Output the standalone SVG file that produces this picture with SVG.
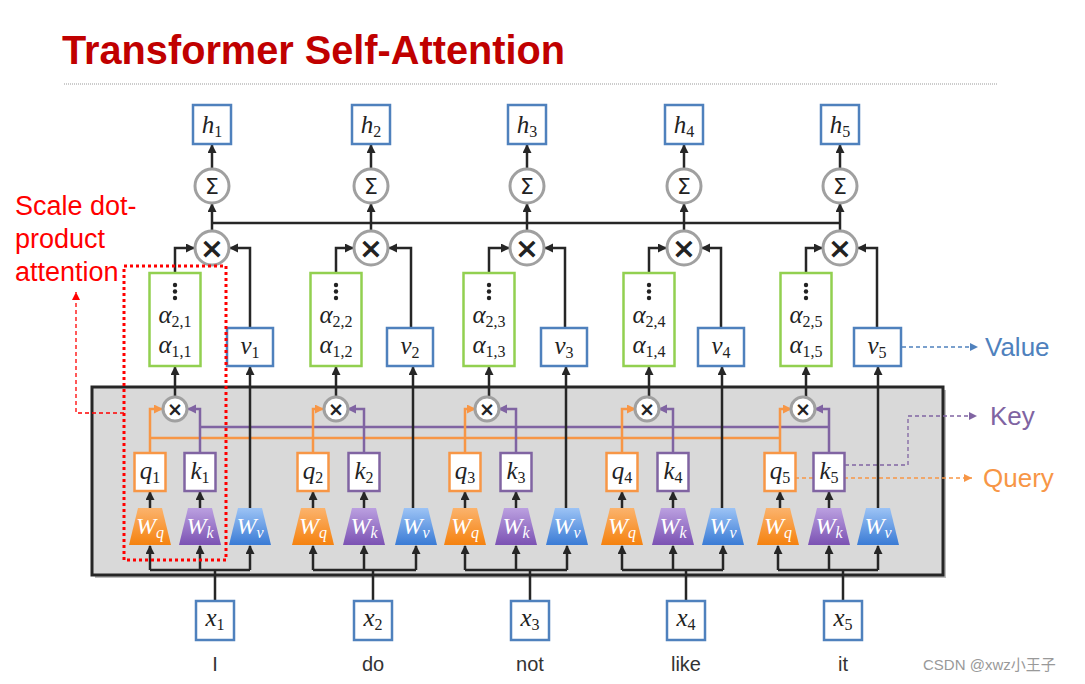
<svg xmlns="http://www.w3.org/2000/svg" width="1085" height="684" viewBox="0 0 1085 684">
<style>
.title{font-family:"Liberation Sans",Arial,sans-serif;font-weight:bold;font-size:40px;fill:#c00000}
.red{font-family:"Liberation Sans",Arial,sans-serif;font-size:27px;fill:#ff0000}
.lbl{font-family:"Liberation Sans",Arial,sans-serif;font-size:26px}
.word{font-family:"Liberation Sans",Arial,sans-serif;font-size:20px;fill:#333}
.math{font-family:"Liberation Serif","DejaVu Serif",serif;font-style:italic;font-size:25px;fill:#222;text-anchor:middle}
.wm{font-family:"Liberation Serif","DejaVu Serif",serif;font-style:italic;font-size:24px;fill:#fff;text-anchor:middle}
.sub{font-style:normal;font-size:16px}
.wsub{font-size:16px}
.bbox{fill:#fff;stroke:#4f81bd;stroke-width:2.5}
.gbox{fill:#fff;stroke:#92d050;stroke-width:2.5}
.qbox{fill:#fff;stroke:#f79646;stroke-width:2.5}
.kbox{fill:#fff;stroke:#8064a2;stroke-width:2.5}
.op{fill:#fff;stroke:#a0a0a0;stroke-width:3}
.sym{font-family:"DejaVu Sans",sans-serif;fill:#222;text-anchor:middle}
.ln{fill:none;stroke:#262626;stroke-width:2.5}
.lnA{fill:none;stroke:#262626;stroke-width:2.5;marker-end:url(#ab)}
.oA{fill:none;stroke:#f79646;stroke-width:2.5;marker-end:url(#ao)}
.pA{fill:none;stroke:#8064a2;stroke-width:2.5;marker-end:url(#ap)}
</style>
<defs>
<marker id="ab" markerUnits="userSpaceOnUse" markerWidth="10" markerHeight="10" refX="8" refY="4.5" orient="auto"><path d="M0,0 L9,4.5 L0,9 z" fill="#262626"/></marker>
<marker id="ao" markerUnits="userSpaceOnUse" markerWidth="10" markerHeight="10" refX="8" refY="4.5" orient="auto"><path d="M0,0 L9,4.5 L0,9 z" fill="#f79646"/></marker>
<marker id="ap" markerUnits="userSpaceOnUse" markerWidth="10" markerHeight="10" refX="8" refY="4.5" orient="auto"><path d="M0,0 L9,4.5 L0,9 z" fill="#8064a2"/></marker>
<marker id="dB" markerUnits="userSpaceOnUse" markerWidth="10" markerHeight="10" refX="8" refY="4" orient="auto"><path d="M0,0 L8,4 L0,8 z" fill="#4f81bd"/></marker>
<marker id="dP" markerUnits="userSpaceOnUse" markerWidth="10" markerHeight="10" refX="8" refY="4" orient="auto"><path d="M0,0 L8,4 L0,8 z" fill="#8064a2"/></marker>
<marker id="dO" markerUnits="userSpaceOnUse" markerWidth="10" markerHeight="10" refX="8" refY="4" orient="auto"><path d="M0,0 L8,4 L0,8 z" fill="#f79646"/></marker>
<marker id="dR" markerUnits="userSpaceOnUse" markerWidth="10" markerHeight="10" refX="8" refY="4" orient="auto"><path d="M0,0 L8,4 L0,8 z" fill="#ff0000"/></marker>
<linearGradient id="gq" x1="0" y1="0" x2="0" y2="1"><stop offset="0" stop-color="#fbb36d"/><stop offset="1" stop-color="#f5820f"/></linearGradient>
<linearGradient id="gk" x1="0" y1="0" x2="0" y2="1"><stop offset="0" stop-color="#bba0e0"/><stop offset="1" stop-color="#7b52b3"/></linearGradient>
<linearGradient id="gv" x1="0" y1="0" x2="0" y2="1"><stop offset="0" stop-color="#9cc3f5"/><stop offset="1" stop-color="#3a7bd5"/></linearGradient>
</defs>

<rect width="1085" height="684" fill="#fff"/>

<g id="title">
<text class="title" x="62" y="64" textLength="503" lengthAdjust="spacingAndGlyphs">Transformer Self-Attention</text>
<line x1="64" y1="84" x2="997" y2="84" stroke="#999" stroke-width="1" stroke-dasharray="1 1"/>
</g>

<g id="panel">
<rect x="95" y="390" width="851" height="188" fill="#bdbdbd"/>
<rect x="92" y="387" width="851" height="188" fill="#d9d9d9" stroke="#262626" stroke-width="3"/>
</g>

<g id="annotations">
<text class="red" x="15" y="215">Scale dot-</text>
<text class="red" x="15" y="248">product</text>
<text class="red" x="15" y="281">attention</text>
<path d="M124,413 H76 V292" fill="none" stroke="#ff0000" stroke-width="1.3" stroke-dasharray="4 3" marker-end="url(#dR)"/>
<path d="M902,347 H978" fill="none" stroke="#4f81bd" stroke-width="1.3" stroke-dasharray="4 3" marker-end="url(#dB)"/>
<text class="lbl" x="985" y="356" fill="#4f81bd">Value</text>
<path d="M845,465 H908 V416 H977" fill="none" stroke="#8064a2" stroke-width="1.3" stroke-dasharray="4 3" marker-end="url(#dP)"/>
<text class="lbl" x="990" y="425" fill="#8064a2">Key</text>
<path d="M795,478 H972" fill="none" stroke="#f79646" stroke-width="1.3" stroke-dasharray="4 3" marker-end="url(#dO)"/>
<text class="lbl" x="983" y="487" fill="#f79646">Query</text>
</g>

<g id="connectors">
<path class="ln" d="M212,223 H840" stroke-width="4"/>
<path d="M150,438 H780" fill="none" stroke="#f79646" stroke-width="2.5"/>
<path d="M200,427 H829" fill="none" stroke="#8064a2" stroke-width="2.5"/>
<!-- column 1 -->
<path class="lnA" d="M212,168 V145"/><path class="lnA" d="M212,230 V204"/>
<path class="lnA" d="M175,273 V248 H194"/><path class="lnA" d="M250,328 V248 H230"/>
<path class="lnA" d="M175,397 V367"/><path class="lnA" d="M250,508 V367"/>
<path class="lnA" d="M150,508 V492"/><path class="lnA" d="M200,508 V492"/>
<path class="oA" d="M150,453 V409 H162"/><path class="pA" d="M200,453 V409 H188"/>
<path class="ln" d="M215,601 V570 M150,570 H250"/>
<path class="lnA" d="M150,570 V546"/><path class="lnA" d="M200,570 V546"/><path class="lnA" d="M250,570 V546"/>
<!-- column 2 -->
<path class="lnA" d="M371,168 V145"/><path class="lnA" d="M371,230 V204"/>
<path class="lnA" d="M336,273 V248 H353"/><path class="lnA" d="M411,328 V248 H389"/>
<path class="lnA" d="M336,397 V367"/><path class="lnA" d="M413,508 V367"/>
<path class="lnA" d="M313,508 V492"/><path class="lnA" d="M364,508 V492"/>
<path class="oA" d="M313,453 V409 H323"/><path class="pA" d="M364,453 V409 H348"/>
<path class="ln" d="M373,601 V570 M313,570 H416"/>
<path class="lnA" d="M313,570 V546"/><path class="lnA" d="M364,570 V546"/><path class="lnA" d="M416,570 V546"/>
<!-- column 3 -->
<path class="lnA" d="M527,168 V145"/><path class="lnA" d="M527,230 V204"/>
<path class="lnA" d="M489,273 V248 H509"/><path class="lnA" d="M565,328 V248 H545"/>
<path class="lnA" d="M489,397 V367"/><path class="lnA" d="M566,508 V367"/>
<path class="lnA" d="M465,508 V492"/><path class="lnA" d="M516,508 V492"/>
<path class="oA" d="M465,453 V409 H475"/><path class="pA" d="M516,453 V409 H499"/>
<path class="ln" d="M530,601 V570 M465,570 H567"/>
<path class="lnA" d="M465,570 V546"/><path class="lnA" d="M516,570 V546"/><path class="lnA" d="M567,570 V546"/>
<!-- column 4 -->
<path class="lnA" d="M684,168 V145"/><path class="lnA" d="M684,230 V204"/>
<path class="lnA" d="M649,273 V248 H666"/><path class="lnA" d="M721,328 V248 H702"/>
<path class="lnA" d="M649,397 V367"/><path class="lnA" d="M722,508 V367"/>
<path class="lnA" d="M622,508 V492"/><path class="lnA" d="M673,508 V492"/>
<path class="oA" d="M622,453 V409 H635"/><path class="pA" d="M673,453 V409 H659"/>
<path class="ln" d="M686,601 V570 M622,570 H723"/>
<path class="lnA" d="M622,570 V546"/><path class="lnA" d="M673,570 V546"/><path class="lnA" d="M723,570 V546"/>
<!-- column 5 -->
<path class="lnA" d="M840,168 V145"/><path class="lnA" d="M840,230 V204"/>
<path class="lnA" d="M806,273 V248 H822"/><path class="lnA" d="M877,328 V248 H858"/>
<path class="lnA" d="M806,397 V367"/><path class="lnA" d="M878,508 V367"/>
<path class="lnA" d="M780,508 V492"/><path class="lnA" d="M829,508 V492"/>
<path class="oA" d="M780,453 V409 H791"/><path class="pA" d="M829,453 V409 H815"/>
<path class="ln" d="M843,601 V570 M778,570 H878"/>
<path class="lnA" d="M778,570 V546"/><path class="lnA" d="M829,570 V546"/><path class="lnA" d="M878,570 V546"/>
</g>

<g id="col1">
<rect class="bbox" x="193" y="105" width="38" height="39"/><text class="math" x="212" y="133">h<tspan class="sub" dy="4">1</tspan></text>
<circle class="op" cx="212" cy="186" r="17"/><text class="sym" x="212" y="194" font-size="22">Σ</text>
<circle class="op" cx="212" cy="248" r="17"/><text class="sym" x="212" y="258" font-size="29" font-weight="bold">×</text>
<rect class="gbox" x="149.5" y="273" width="51" height="93"/>
<circle cx="175" cy="285" r="2.2" fill="#222"/><circle cx="175" cy="291.5" r="2.2" fill="#222"/><circle cx="175" cy="298" r="2.2" fill="#222"/>
<text class="math" x="175" y="323">α<tspan class="sub" dy="4">2,1</tspan></text>
<text class="math" x="175" y="353">α<tspan class="sub" dy="4">1,1</tspan></text>
<rect class="bbox" x="227" y="328" width="46" height="38"/><text class="math" x="250" y="354">v<tspan class="sub" dy="4">1</tspan></text>
<circle class="op" cx="175" cy="409" r="12"/><text class="sym" x="175" y="416" font-size="19" font-weight="bold">×</text>
<rect class="qbox" x="134.5" y="453" width="31" height="38"/><text class="math" x="150" y="479">q<tspan class="sub" dy="4">1</tspan></text>
<rect class="kbox" x="184.5" y="453" width="31" height="38"/><text class="math" x="200" y="479">k<tspan class="sub" dy="4">1</tspan></text>
<polygon points="138,508 162,508 171,545 129,545" fill="url(#gq)"/><text class="wm" x="150" y="534">W<tspan class="wsub" dy="4">q</tspan></text>
<polygon points="188,508 212,508 221,545 179,545" fill="url(#gk)"/><text class="wm" x="200" y="534">W<tspan class="wsub" dy="4">k</tspan></text>
<polygon points="238,508 262,508 271,545 229,545" fill="url(#gv)"/><text class="wm" x="250" y="534">W<tspan class="wsub" dy="4">v</tspan></text>
<rect class="bbox" x="196" y="601" width="38" height="39"/><text class="math" x="215" y="626">x<tspan class="sub" dy="4">1</tspan></text>
<text class="word" x="215" y="671" text-anchor="middle">I</text>
</g>

<g id="col2">
<rect class="bbox" x="352" y="105" width="38" height="39"/><text class="math" x="371" y="133">h<tspan class="sub" dy="4">2</tspan></text>
<circle class="op" cx="371" cy="186" r="17"/><text class="sym" x="371" y="194" font-size="22">Σ</text>
<circle class="op" cx="371" cy="248" r="17"/><text class="sym" x="371" y="258" font-size="29" font-weight="bold">×</text>
<rect class="gbox" x="310.5" y="273" width="51" height="93"/>
<circle cx="336" cy="285" r="2.2" fill="#222"/><circle cx="336" cy="291.5" r="2.2" fill="#222"/><circle cx="336" cy="298" r="2.2" fill="#222"/>
<text class="math" x="336" y="323">α<tspan class="sub" dy="4">2,2</tspan></text>
<text class="math" x="336" y="353">α<tspan class="sub" dy="4">1,2</tspan></text>
<rect class="bbox" x="387" y="328" width="46" height="38"/><text class="math" x="410" y="354">v<tspan class="sub" dy="4">2</tspan></text>
<circle class="op" cx="336" cy="409" r="12"/><text class="sym" x="336" y="416" font-size="19" font-weight="bold">×</text>
<rect class="qbox" x="297.5" y="453" width="31" height="38"/><text class="math" x="313" y="479">q<tspan class="sub" dy="4">2</tspan></text>
<rect class="kbox" x="348.5" y="453" width="31" height="38"/><text class="math" x="364" y="479">k<tspan class="sub" dy="4">2</tspan></text>
<polygon points="301,508 325,508 334,545 292,545" fill="url(#gq)"/><text class="wm" x="313" y="534">W<tspan class="wsub" dy="4">q</tspan></text>
<polygon points="352,508 376,508 385,545 343,545" fill="url(#gk)"/><text class="wm" x="364" y="534">W<tspan class="wsub" dy="4">k</tspan></text>
<polygon points="404,508 428,508 437,545 395,545" fill="url(#gv)"/><text class="wm" x="416" y="534">W<tspan class="wsub" dy="4">v</tspan></text>
<rect class="bbox" x="354" y="601" width="38" height="39"/><text class="math" x="373" y="626">x<tspan class="sub" dy="4">2</tspan></text>
<text class="word" x="373" y="671" text-anchor="middle">do</text>
</g>

<g id="col3">
<rect class="bbox" x="508" y="105" width="38" height="39"/><text class="math" x="527" y="133">h<tspan class="sub" dy="4">3</tspan></text>
<circle class="op" cx="527" cy="186" r="17"/><text class="sym" x="527" y="194" font-size="22">Σ</text>
<circle class="op" cx="527" cy="248" r="17"/><text class="sym" x="527" y="258" font-size="29" font-weight="bold">×</text>
<rect class="gbox" x="463.5" y="273" width="51" height="93"/>
<circle cx="489" cy="285" r="2.2" fill="#222"/><circle cx="489" cy="291.5" r="2.2" fill="#222"/><circle cx="489" cy="298" r="2.2" fill="#222"/>
<text class="math" x="489" y="323">α<tspan class="sub" dy="4">2,3</tspan></text>
<text class="math" x="489" y="353">α<tspan class="sub" dy="4">1,3</tspan></text>
<rect class="bbox" x="541" y="328" width="46" height="38"/><text class="math" x="564" y="354">v<tspan class="sub" dy="4">3</tspan></text>
<circle class="op" cx="487" cy="409" r="12"/><text class="sym" x="487" y="416" font-size="19" font-weight="bold">×</text>
<rect class="qbox" x="449.5" y="453" width="31" height="38"/><text class="math" x="465" y="479">q<tspan class="sub" dy="4">3</tspan></text>
<rect class="kbox" x="500.5" y="453" width="31" height="38"/><text class="math" x="516" y="479">k<tspan class="sub" dy="4">3</tspan></text>
<polygon points="453,508 477,508 486,545 444,545" fill="url(#gq)"/><text class="wm" x="465" y="534">W<tspan class="wsub" dy="4">q</tspan></text>
<polygon points="504,508 528,508 537,545 495,545" fill="url(#gk)"/><text class="wm" x="516" y="534">W<tspan class="wsub" dy="4">k</tspan></text>
<polygon points="555,508 579,508 588,545 546,545" fill="url(#gv)"/><text class="wm" x="567" y="534">W<tspan class="wsub" dy="4">v</tspan></text>
<rect class="bbox" x="511" y="601" width="38" height="39"/><text class="math" x="530" y="626">x<tspan class="sub" dy="4">3</tspan></text>
<text class="word" x="530" y="671" text-anchor="middle">not</text>
</g>

<g id="col4">
<rect class="bbox" x="665" y="105" width="38" height="39"/><text class="math" x="684" y="133">h<tspan class="sub" dy="4">4</tspan></text>
<circle class="op" cx="684" cy="186" r="17"/><text class="sym" x="684" y="194" font-size="22">Σ</text>
<circle class="op" cx="684" cy="248" r="17"/><text class="sym" x="684" y="258" font-size="29" font-weight="bold">×</text>
<rect class="gbox" x="623.5" y="273" width="51" height="93"/>
<circle cx="649" cy="285" r="2.2" fill="#222"/><circle cx="649" cy="291.5" r="2.2" fill="#222"/><circle cx="649" cy="298" r="2.2" fill="#222"/>
<text class="math" x="649" y="323">α<tspan class="sub" dy="4">2,4</tspan></text>
<text class="math" x="649" y="353">α<tspan class="sub" dy="4">1,4</tspan></text>
<rect class="bbox" x="698" y="328" width="46" height="38"/><text class="math" x="721" y="354">v<tspan class="sub" dy="4">4</tspan></text>
<circle class="op" cx="647" cy="409" r="12"/><text class="sym" x="647" y="416" font-size="19" font-weight="bold">×</text>
<rect class="qbox" x="606.5" y="453" width="31" height="38"/><text class="math" x="622" y="479">q<tspan class="sub" dy="4">4</tspan></text>
<rect class="kbox" x="657.5" y="453" width="31" height="38"/><text class="math" x="673" y="479">k<tspan class="sub" dy="4">4</tspan></text>
<polygon points="610,508 634,508 643,545 601,545" fill="url(#gq)"/><text class="wm" x="622" y="534">W<tspan class="wsub" dy="4">q</tspan></text>
<polygon points="661,508 685,508 694,545 652,545" fill="url(#gk)"/><text class="wm" x="673" y="534">W<tspan class="wsub" dy="4">k</tspan></text>
<polygon points="711,508 735,508 744,545 702,545" fill="url(#gv)"/><text class="wm" x="723" y="534">W<tspan class="wsub" dy="4">v</tspan></text>
<rect class="bbox" x="667" y="601" width="38" height="39"/><text class="math" x="686" y="626">x<tspan class="sub" dy="4">4</tspan></text>
<text class="word" x="686" y="671" text-anchor="middle">like</text>
</g>

<g id="col5">
<rect class="bbox" x="821" y="105" width="38" height="39"/><text class="math" x="840" y="133">h<tspan class="sub" dy="4">5</tspan></text>
<circle class="op" cx="840" cy="186" r="17"/><text class="sym" x="840" y="194" font-size="22">Σ</text>
<circle class="op" cx="840" cy="248" r="17"/><text class="sym" x="840" y="258" font-size="29" font-weight="bold">×</text>
<rect class="gbox" x="780.5" y="273" width="51" height="93"/>
<circle cx="806" cy="285" r="2.2" fill="#222"/><circle cx="806" cy="291.5" r="2.2" fill="#222"/><circle cx="806" cy="298" r="2.2" fill="#222"/>
<text class="math" x="806" y="323">α<tspan class="sub" dy="4">2,5</tspan></text>
<text class="math" x="806" y="353">α<tspan class="sub" dy="4">1,5</tspan></text>
<rect class="bbox" x="854" y="328" width="47" height="38"/><text class="math" x="877" y="354">v<tspan class="sub" dy="4">5</tspan></text>
<circle class="op" cx="803" cy="409" r="12"/><text class="sym" x="803" y="416" font-size="19" font-weight="bold">×</text>
<rect class="qbox" x="764.5" y="453" width="31" height="38"/><text class="math" x="780" y="479">q<tspan class="sub" dy="4">5</tspan></text>
<rect class="kbox" x="813.5" y="453" width="31" height="38"/><text class="math" x="829" y="479">k<tspan class="sub" dy="4">5</tspan></text>
<polygon points="766,508 790,508 799,545 757,545" fill="url(#gq)"/><text class="wm" x="778" y="534">W<tspan class="wsub" dy="4">q</tspan></text>
<polygon points="817,508 841,508 850,545 808,545" fill="url(#gk)"/><text class="wm" x="829" y="534">W<tspan class="wsub" dy="4">k</tspan></text>
<polygon points="866,508 890,508 899,545 857,545" fill="url(#gv)"/><text class="wm" x="878" y="534">W<tspan class="wsub" dy="4">v</tspan></text>
<rect class="bbox" x="824" y="601" width="38" height="39"/><text class="math" x="843" y="626">x<tspan class="sub" dy="4">5</tspan></text>
<text class="word" x="843" y="671" text-anchor="middle">it</text>
</g>

<g id="scale-box">
<rect x="124" y="266" width="102" height="294" fill="none" stroke="#ff0000" stroke-width="3" stroke-dasharray="3 3"/>
</g>

<text x="923" y="670" font-family="'Liberation Sans','Noto Sans CJK SC',sans-serif" font-size="15" fill="#999">CSDN @xwz小王子</text>
</svg>
